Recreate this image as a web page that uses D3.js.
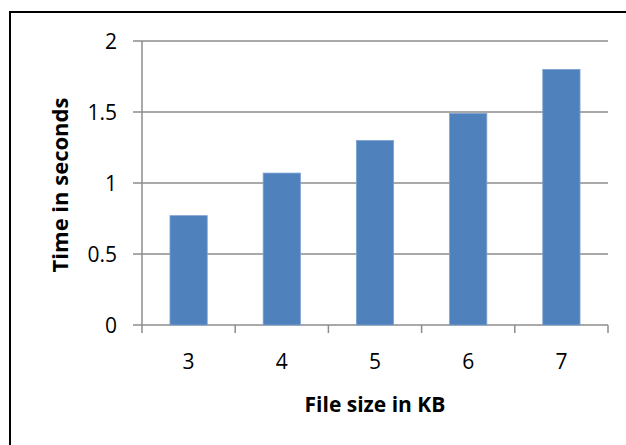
<!DOCTYPE html>
<html lang="en">
<head>
    <meta charset="UTF-8">
    <title>Time vs file size</title>
    <script src="https://d3js.org/d3.v7.min.js"></script>
    <style>
        body { margin: 0; background: #fff; }
        svg text { font-family: "Open Sans", "Liberation Sans", sans-serif; fill: #000; }
    </style>
</head>
<body>
    <div id="chart"></div>
    <script>
        const categories = ["3", "4", "5", "6", "7"];
        const times = [0.77, 1.07, 1.30, 1.49, 1.80];
        const yTicks = [0, 0.5, 1, 1.5, 2];

        const width = 626;
        const height = 445;
        const margin = { top: 41, right: 18, bottom: 120, left: 142 };
        const innerWidth = width - margin.left - margin.right;
        const innerHeight = 325 - margin.top;

        const svg = d3.select("#chart")
            .append("svg")
            .attr("width", width)
            .attr("height", height);

        // outer frame, only top and left edges fall inside the picture
        svg.append("path")
            .attr("d", `M10,${height} V12 H${width}`)
            .attr("fill", "none")
            .attr("stroke", "#000")
            .attr("stroke-width", 2);

        const g = svg.append("g")
            .attr("transform", `translate(${margin.left}, ${margin.top})`);

        const x = d3.scaleBand()
            .domain(categories)
            .range([0, innerWidth])
            .paddingInner(0.6)
            .paddingOuter(0.3);

        const xOuter = d3.scaleBand()
            .domain(categories)
            .range([0, innerWidth]);

        const y = d3.scaleLinear()
            .domain([0, 2])
            .range([innerHeight, 0]);

        // gridlines with left ticks
        g.selectAll(".grid")
            .data(yTicks)
            .join("line")
            .attr("x1", -9)
            .attr("x2", innerWidth)
            .attr("y1", d => y(d))
            .attr("y2", d => y(d))
            .attr("stroke", "#8c8c8c")
            .attr("stroke-width", 1.5);

        // y axis line
        g.append("line")
            .attr("x1", 0).attr("x2", 0)
            .attr("y1", 0).attr("y2", innerHeight)
            .attr("stroke", "#8c8c8c")
            .attr("stroke-width", 1.5);

        // x axis ticks at category boundaries
        const boundaries = categories.map(c => xOuter(c)).concat([innerWidth]);
        g.selectAll(".xtick")
            .data(boundaries)
            .join("line")
            .attr("x1", d => d).attr("x2", d => d)
            .attr("y1", innerHeight).attr("y2", innerHeight + 8)
            .attr("stroke", "#8c8c8c")
            .attr("stroke-width", 1.5);

        // bars
        g.selectAll(".bar")
            .data(times)
            .join("rect")
            .attr("x", (d, i) => x(categories[i]))
            .attr("y", d => y(d))
            .attr("width", x.bandwidth())
            .attr("height", d => innerHeight - y(d))
            .attr("fill", "#4f81bd")
            .attr("stroke", "#7ea3d3")
            .attr("stroke-width", 0.8);

        // y tick labels
        g.selectAll(".ylab")
            .data(yTicks)
            .join("text")
            .attr("x", -25)
            .attr("y", d => y(d))
            .attr("dy", "0.36em")
            .attr("text-anchor", "end")
            .style("font-size", "21px")
            .text(d => d);

        // x tick labels
        g.selectAll(".xlab")
            .data(categories)
            .join("text")
            .attr("x", d => xOuter(d) + xOuter.bandwidth() / 2)
            .attr("y", innerHeight + 44)
            .attr("text-anchor", "middle")
            .style("font-size", "21px")
            .text(d => d);

        // axis titles
        svg.append("text")
            .attr("x", margin.left + innerWidth / 2)
            .attr("y", 412)
            .attr("text-anchor", "middle")
            .style("font-size", "21px")
            .style("font-weight", "bold")
            .text("File size in KB");

        svg.append("text")
            .attr("transform", "translate(68, 185) rotate(-90)")
            .attr("text-anchor", "middle")
            .style("font-size", "22px")
            .style("font-weight", "bold")
            .text("Time in seconds");
    </script>
</body>
</html>
